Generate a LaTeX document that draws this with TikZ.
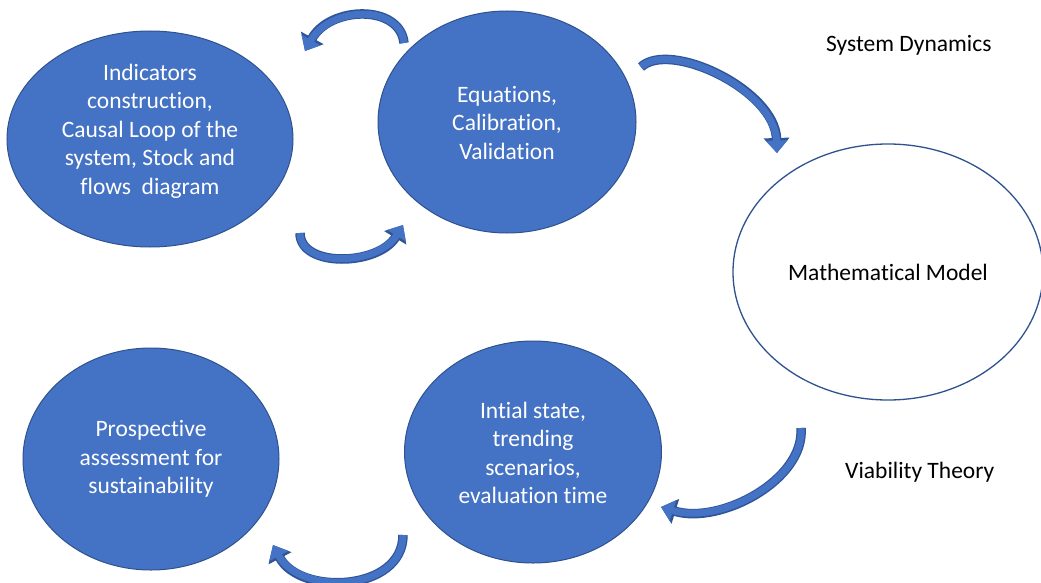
\documentclass[tikz,border=0pt]{standalone}
\usepackage{fontspec}
\setmainfont{Carlito}[Ligatures=NoCommon]
\usetikzlibrary{shapes.geometric,arrows.meta}
\definecolor{eblue}{HTML}{4472C4}
\definecolor{eedge}{HTML}{2F528F}
\definecolor{adark}{HTML}{2F5597}
\begin{document}
\begin{tikzpicture}[x=1pt,y=-1pt,
  blob/.style={ellipse, draw=eedge, line width=1pt, fill=eblue, inner sep=0pt},
  wblob/.style={ellipse, draw=eedge, line width=1.3pt, fill=white, inner sep=0pt},
  wtext/.style={text=white, align=center, font=\fontsize{23.5}{28.5}\selectfont, inner sep=0pt},
  btext/.style={text=black, font=\fontsize{23.5}{28.5}\selectfont, inner sep=0pt},
  darkpass/.style={draw=adark, line width=9.5pt, -{Triangle[length=15pt,width=25pt]}},
  bluepass/.style={draw=eblue, line width=7pt, -{Triangle[length=12.5pt,width=21pt]}}
]
\fill[white] (0,0) rectangle (1041,583);
\useasboundingbox (0,0) rectangle (1041,583);

% ellipses
\node[blob, minimum width=286, minimum height=216] (e1) at (150,139) {};
\node[blob, minimum width=258, minimum height=222] (e2) at (507,122) {};
\node[wblob, minimum width=310, minimum height=256] (e3) at (888,272) {};
\node[blob, minimum width=256, minimum height=222] (e4) at (151,459) {};
\node[blob, minimum width=257, minimum height=222] (e5) at (533,452) {};

% texts
\node[wtext] (t1) at ([yshift=8pt]e1.center) {Indicators\\construction,\\Causal Loop of the\\system, Stock and\\flows\ \ diagram};
\node[wtext] (t2) at ([yshift=-1pt]e2.center) {Equations,\\Calibration,\\Validation};
\node[btext] (t3) at (e3.center) {Mathematical Model};
\node[wtext] (t4) at (e4.center) {Prospective\\assessment for\\sustainability};
\node[wtext] (t5) at ([yshift=-1pt]e5.center) {Intial state,\\trending\\scenarios,\\evaluation time};

\node[btext, anchor=west] (sd) at (826,45) {System Dynamics};
\node[btext, anchor=west] (vt) at (845,472) {Viability Theory};

% curved arrows: named end points
\coordinate (a1s) at (404,43);
\coordinate (a1e) at (305,51);
\coordinate (a2s) at (300,233);
\coordinate (a2e) at (403,225);
\coordinate (a3s) at (641,67);
\coordinate (a3e) at (777,153);
\coordinate (a4s) at (801,428);
\coordinate (a4e) at (661,507);
\coordinate (a5s) at (403,535);
\coordinate (a5e) at (273,545);

\foreach \p in {darkpass,bluepass}{
  \draw[\p] (a1s) .. controls (400,4) and (330,6) .. (a1e);
  \draw[\p] (a2s) .. controls (300,268) and (378,266) .. (a2e);
  \draw[\p] (a3s) .. controls (670,40) and (775,90) .. (a3e);
  \draw[\p] (a4s) .. controls (805,480) and (720,525) .. (a4e);
  \draw[\p] (a5s) .. controls (403,592) and (300,596) .. (a5e);
}
\end{tikzpicture}
\end{document}
